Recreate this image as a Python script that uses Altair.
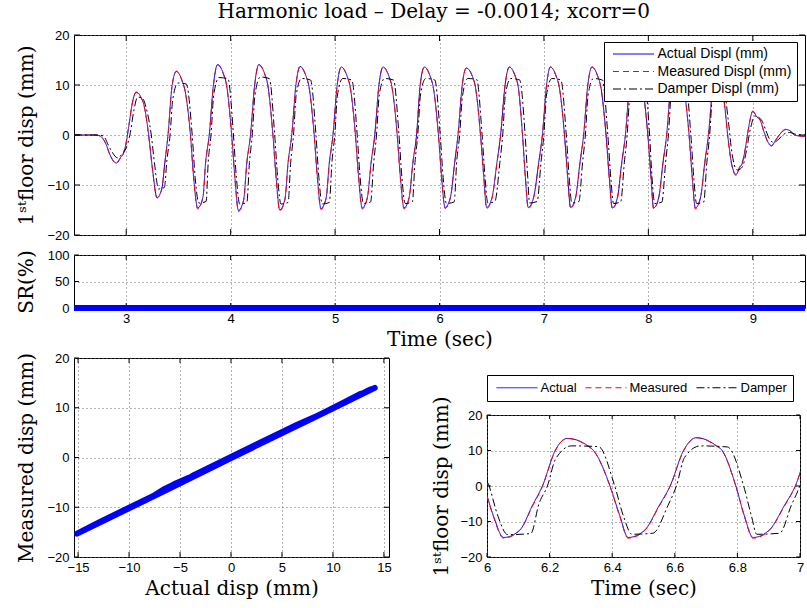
import altair as alt
import pandas as pd

TITLE = "Harmonic load – Delay = -0.0014; xcorr=0"
SERIES = ["Actual Displ (mm)", "Measured Displ (mm)", "Damper Displ (mm)"]
COLORS = ["blue", "red", "black"]
DASHES = [[1, 0], [6, 4], [8, 3, 2, 3]]

TIME = [
    2.50, 2.60, 2.70, 2.75, 2.80, 2.85, 2.905, 2.945, 2.975, 3.00, 3.03, 3.06, 3.095, 3.14, 3.17, 3.215, 3.25, 3.295,
    3.34, 3.37, 3.40, 3.44, 3.48,
    3.535, 3.565, 3.615, 3.645, 3.685,
    3.735, 3.76, 3.795, 3.835, 3.875,
    3.93, 3.96, 4.01, 4.04, 4.075,
    4.125, 4.155, 4.19, 4.23, 4.27,
    4.325, 4.355, 4.405, 4.435, 4.47,
    4.52, 4.55, 4.585, 4.625, 4.665,
    4.72, 4.75, 4.80, 4.83, 4.865,
    4.915, 4.945, 4.98, 5.02, 5.06,
    5.115, 5.145, 5.195, 5.225, 5.26,
    5.31, 5.345, 5.38, 5.42, 5.46,
    5.515, 5.545, 5.595, 5.625, 5.66,
    5.71, 5.745, 5.78, 5.815, 5.855,
    5.91, 5.94, 5.99, 6.02, 6.053,
    6.105, 6.145, 6.177, 6.219, 6.256,
    6.314, 6.345, 6.393, 6.424, 6.451,
    6.503, 6.55, 6.585, 6.628, 6.668,
    6.725, 6.755, 6.795, 6.822, 6.85,
    6.903, 6.95, 6.985, 7.025, 7.062,
    7.117, 7.147, 7.197, 7.227, 7.255,
    7.305, 7.345, 7.38, 7.42, 7.46,
    7.515, 7.545, 7.595, 7.625, 7.655,
    7.705, 7.745, 7.78, 7.82, 7.86,
    7.915, 7.945, 7.995, 8.025, 8.05,
    8.10, 8.14, 8.175, 8.215, 8.255,
    8.31, 8.34, 8.39, 8.42, 8.45,
    8.50, 8.54, 8.575, 8.615, 8.65,
    8.70, 8.73, 8.765, 8.80, 8.84,
    8.875, 8.90, 8.93, 8.96, 9.00,
    9.04, 9.07, 9.11, 9.15, 9.18,
    9.22, 9.27, 9.32, 9.36, 9.40, 9.45, 9.50,
]

ACTUAL = [
    0.0, 0.0, 0.0, -0.2, -1.5, -4.2, -5.6, -4.5, -3.6, -1.5, 2.5, 6.5, 8.6, 7.6, 6.0, 0.0, -6.5, -12.5,
    -10.8, -5.5, 0.0, 10.0, 12.7,
    10.9, 8.7, 0.0, -8.3, -14.6,
    -12.4, -5.5, 0.0, 10.0, 14.1,
    12.3, 10.1, 0.0, -8.3, -15.1,
    -12.9, -5.5, 0.0, 10.0, 14.1,
    12.3, 10.1, 0.0, -8.3, -15.0,
    -12.8, -5.5, 0.0, 10.0, 13.7,
    11.9, 9.7, 0.0, -8.3, -14.7,
    -12.5, -5.5, 0.0, 10.0, 13.6,
    11.8, 9.6, 0.0, -8.3, -14.6,
    -12.4, -5.5, 0.0, 10.0, 13.6,
    11.8, 9.6, 0.0, -8.3, -14.6,
    -12.4, -5.5, 0.0, 10.0, 13.6,
    11.8, 9.6, 0.0, -8.3, -14.5,
    -12.4, -5.5, 0.0, 10.2, 13.4,
    11.8, 9.5, 0.0, -8.3, -14.5,
    -12.5, -5.5, 0.0, 10.0, 13.6,
    11.8, 9.5, 0.0, -8.3, -14.5,
    -12.3, -5.5, 0.0, 10.0, 13.6,
    11.8, 9.6, 0.0, -8.3, -14.5,
    -12.3, -5.5, 0.0, 10.0, 13.6,
    11.8, 9.6, 0.0, -8.3, -14.6,
    -12.4, -5.5, 0.0, 10.0, 13.5,
    11.7, 9.5, 0.0, -8.3, -14.6,
    -12.4, -5.5, 0.0, 10.0, 13.4,
    11.6, 9.4, 0.0, -8.3, -14.6,
    -12.4, -5.5, 0.0, 9.0, 12.0,
    10.5, 6.0, -1.0, -6.0, -7.9,
    -6.5, -5.6, -2.5, 1.5, 4.7,
    3.6, 3.0, 0.5, -1.6, -2.1,
    -1.0, 0.4, 1.1, 0.8, 0.0, -0.2, -0.3,
]

MEASURED = [
    0.0, 0.0, 0.0, -0.2, -1.6, -4.3, -5.7, -4.6, -3.5, -1.4, 2.6, 6.6, 8.5, 7.5, 5.9, -0.1, -6.7, -12.6,
    -10.9, -5.6, -0.1, 9.9, 12.8,
    10.8, 8.6, -0.1, -8.5, -14.8,
    -12.5, -5.7, -0.1, 9.9, 14.0,
    12.2, 10.0, -0.1, -8.5, -15.3,
    -13.0, -5.7, -0.1, 9.9, 14.0,
    12.2, 10.0, -0.1, -8.5, -15.2,
    -12.9, -5.7, -0.1, 9.9, 13.7,
    11.8, 9.6, -0.1, -8.5, -14.9,
    -12.6, -5.7, -0.1, 9.9, 13.6,
    11.7, 9.5, -0.1, -8.5, -14.8,
    -12.5, -5.7, -0.1, 9.9, 13.6,
    11.7, 9.5, -0.1, -8.5, -14.8,
    -12.5, -5.7, -0.1, 9.9, 13.6,
    11.7, 9.5, -0.1, -8.5, -14.7,
    -12.5, -5.7, -0.1, 10.1, 13.4,
    11.7, 9.4, -0.1, -8.5, -14.7,
    -12.6, -5.7, -0.1, 9.9, 13.6,
    11.7, 9.4, -0.1, -8.5, -14.7,
    -12.4, -5.7, -0.1, 9.9, 13.6,
    11.7, 9.5, -0.1, -8.5, -14.7,
    -12.4, -5.7, -0.1, 9.9, 13.6,
    11.7, 9.5, -0.1, -8.5, -14.8,
    -12.5, -5.7, -0.1, 9.9, 13.5,
    11.6, 9.4, -0.1, -8.5, -14.8,
    -12.5, -5.7, -0.1, 9.9, 13.4,
    11.5, 9.3, -0.1, -8.5, -14.8,
    -12.5, -5.7, -0.1, 8.9, 12.0,
    10.4, 5.9, -1.1, -6.2, -8.1,
    -6.3, -5.4, -2.6, 1.4, 4.8,
    3.7, 3.0, 0.4, -1.7, -2.2,
    -1.0, 0.5, 1.2, 0.8, 0.0, -0.2, -0.3,
]

DAMPER_TIME = [
    2.50, 2.72, 2.78, 2.84, 2.92, 2.96, 2.995, 3.04, 3.07, 3.11, 3.16, 3.19, 3.24, 3.27, 3.31,
    3.365, 3.39, 3.42, 3.445, 3.495, 3.575, 3.632, 3.66,
    3.697, 3.765, 3.785, 3.812, 3.838, 3.889, 3.975, 4.027, 4.055,
    4.087, 4.155, 4.18, 4.207, 4.233, 4.284, 4.37, 4.422, 4.45,
    4.482, 4.55, 4.575, 4.602, 4.628, 4.679, 4.765, 4.817, 4.845,
    4.877, 4.945, 4.97, 4.997, 5.023, 5.074, 5.16, 5.212, 5.24,
    5.272, 5.34, 5.37, 5.397, 5.423, 5.474, 5.56, 5.612, 5.64,
    5.672, 5.74, 5.765, 5.792, 5.818, 5.869, 5.955, 6.007, 6.035,
    6.066, 6.14, 6.166, 6.193, 6.219, 6.27, 6.356, 6.408, 6.436,
    6.463, 6.53, 6.578, 6.605, 6.631, 6.682, 6.768, 6.82, 6.845,
    6.862, 6.935, 6.972, 6.999, 7.025, 7.076, 7.162, 7.214, 7.242,
    7.267, 7.335, 7.37, 7.397, 7.423, 7.474, 7.56, 7.612, 7.64,
    7.667, 7.735, 7.77, 7.797, 7.823, 7.874, 7.96, 8.012, 8.035,
    8.062, 8.13, 8.165, 8.192, 8.218, 8.269, 8.355, 8.407, 8.435,
    8.462, 8.53, 8.56, 8.587, 8.613, 8.664, 8.72, 8.765, 8.80,
    8.85, 8.88, 8.91, 8.94, 8.975, 9.02, 9.08, 9.12, 9.16, 9.20, 9.25, 9.30, 9.35, 9.42, 9.50,
]

DAMPER = [
    0.0, 0.0, -0.2, -2.5, -4.6, -3.8, -2.8, 0.5, 4.5, 7.6, 7.2, 5.5, 0.0, -5.5, -10.8,
    -10.5, -5.0, 0.0, 7.0, 10.4, 10.2, 0.0, -8.5,
    -13.6, -13.3, -5.5, 0.0, 8.0, 11.5, 11.2, 0.0, -8.5,
    -13.8, -13.5, -5.5, 0.0, 8.0, 11.6, 11.3, 0.0, -8.5,
    -13.8, -13.5, -5.5, 0.0, 8.0, 11.3, 11.0, 0.0, -8.5,
    -13.8, -13.5, -5.5, 0.0, 8.0, 11.3, 11.0, 0.0, -8.5,
    -13.7, -13.4, -5.5, 0.0, 8.0, 11.3, 11.0, 0.0, -8.5,
    -13.7, -13.4, -5.5, 0.0, 8.0, 11.3, 11.0, 0.0, -8.5,
    -13.7, -13.4, -5.0, 0.0, 7.6, 11.3, 11.1, 0.0, -8.5,
    -13.6, -13.3, -5.5, 0.0, 8.0, 11.3, 11.0, 0.0, -8.5,
    -13.6, -13.3, -5.5, 0.0, 8.0, 11.3, 11.0, 0.0, -8.5,
    -13.6, -13.3, -5.5, 0.0, 8.0, 11.3, 11.0, 0.0, -8.5,
    -13.7, -13.4, -5.5, 0.0, 8.0, 11.2, 10.9, 0.0, -8.5,
    -13.7, -13.4, -5.5, 0.0, 8.0, 11.2, 10.9, 0.0, -8.5,
    -13.7, -13.4, -5.5, 0.0, 7.5, 10.5, 9.5, 3.0, -3.5,
    -7.0, -6.8, -5.9, -3.0, 1.0, 3.8, 3.1, 1.2, -0.8, -1.5, -0.8, 0.2, 0.5, 0.1, 0.0,
]

SR_TIME = [2.5, 3.0, 3.5, 4.0, 4.5, 5.0, 5.5, 6.0, 6.5, 7.0, 7.5, 8.0, 8.5, 9.0, 9.5]
SR_VALUE = [0, 0, 0, 0, 0, 0, 0, 0, 0, 0, 0, 0, 0, 0, 0]

TIME_TICKS = [3, 4, 5, 6, 7, 8, 9]
DISP_TICKS = [-20, -10, 0, 10, 20]
SR_TICKS = [0, 50, 100]
ACT_TICKS = [-15, -10, -5, 0, 5, 10, 15]
ZOOM_TICKS = [6, 6.2, 6.4, 6.6, 6.8, 7]

YTITLE = "1ˢᵗfloor disp (mm)"

df_lines = pd.concat([
    pd.DataFrame({"t": TIME, "v": ACTUAL, "s": SERIES[0]}),
    pd.DataFrame({"t": TIME, "v": MEASURED, "s": SERIES[1]}),
    pd.DataFrame({"t": DAMPER_TIME, "v": DAMPER, "s": SERIES[2]}),
], ignore_index=True)
df_sr = pd.DataFrame({"t": SR_TIME, "sr": SR_VALUE})
df_xy = pd.DataFrame({"i": list(range(len(TIME))), "a": ACTUAL, "m": MEASURED})

SYMBOL_PATH = "M-4.1,0H4.1"
color_scale = alt.Scale(domain=SERIES, range=COLORS)
dash_scale = alt.Scale(domain=SERIES, range=DASHES)
LEG_COMMON = dict(
    fillColor="white", strokeColor="black", cornerRadius=0,
    symbolType=SYMBOL_PATH, symbolSize=100, symbolStrokeWidth=1,
    symbolOffset=17.5, labelOffset=17, labelFont="Liberation Sans",
    labelColor="black", labelLimit=300,
)
top_legend = alt.Legend(orient="none", legendX=530, legendY=7, direction="vertical",
                        padding=5, rowPadding=3.5, labelFontSize=14, **LEG_COMMON)
br_legend = alt.Legend(orient="top", direction="horizontal", offset=14, padding=6,
                       columnPadding=5, labelFontSize=13,
                       labelExpr="split(datum.label, ' ')[0]", **LEG_COMMON)

frame = alt.ViewBackground(stroke="black", strokeWidth=1)


def inner_ticks(xvals, yvals, xfield, yfield, xscale, yscale, xaxis, yaxis, w, h, n):
    """Inward MATLAB-style tick marks on the four sides of a panel."""
    dx = pd.DataFrame({xfield: xvals})
    dy = pd.DataFrame({yfield: yvals})
    xs = alt.X(f"{xfield}:Q", scale=xscale, axis=xaxis)
    ys = alt.Y(f"{yfield}:Q", scale=yscale, axis=yaxis)
    base = dict(color="black", strokeWidth=1)
    return [
        alt.Chart(dx).mark_rule(**base).encode(x=xs, y=alt.value(h), y2=alt.value(h - n)),
        alt.Chart(dx).mark_rule(**base).encode(x=xs, y=alt.value(0), y2=alt.value(n)),
        alt.Chart(dy).mark_rule(**base).encode(y=ys, x=alt.value(0), x2=alt.value(n)),
        alt.Chart(dy).mark_rule(**base).encode(y=ys, x=alt.value(w), x2=alt.value(w - n)),
    ]


# ---- top panel ----
TW, TH = 731, 200
t_xs = alt.Scale(domain=[2.5, 9.5], nice=False, zero=False)
t_ys = alt.Scale(domain=[-20, 20], nice=False)
t_xa = alt.Axis(values=TIME_TICKS, labels=False, title=None)
t_ya = alt.Axis(values=DISP_TICKS, format="d", title=YTITLE)
top_lines = alt.Chart(df_lines).mark_line(strokeWidth=1, clip=True, interpolate="monotone").encode(
    x=alt.X("t:Q", scale=t_xs, axis=t_xa),
    y=alt.Y("v:Q", scale=t_ys, axis=t_ya),
    color=alt.Color("s:N", scale=color_scale, sort=SERIES, title=None, legend=top_legend),
    strokeDash=alt.StrokeDash("s:N", scale=dash_scale, sort=SERIES, title=None, legend=top_legend),
)
top = alt.layer(
    top_lines, *inner_ticks(TIME_TICKS, DISP_TICKS, "t", "v", t_xs, t_ys, t_xa, t_ya, 731, 200, 6)
).properties(width=TW, height=TH, view=frame)

# ---- SR panel (thick marker band drawn as a filled area, half-width ~3 px) ----
SH = 53
s_ys = alt.Scale(domain=[0, 100], nice=False)
s_xa = alt.Axis(values=TIME_TICKS, format="d", title="Time (sec)")
s_ya = alt.Axis(values=SR_TICKS, format="d", title="SR(%)")
sr_band = alt.Chart(df_sr).transform_calculate(
    hi="datum.sr + 5.7", lo="datum.sr - 5.7"
).mark_area(color="blue", opacity=1, clip=False).encode(
    x=alt.X("t:Q", scale=t_xs, axis=s_xa),
    y=alt.Y("hi:Q", scale=s_ys, axis=s_ya),
    y2="lo:Q",
)
sr = alt.layer(
    *inner_ticks(TIME_TICKS, SR_TICKS, "t", "hi", t_xs, s_ys, s_xa, s_ya, 731, 53, 5), sr_band
).properties(width=TW, height=SH, view=frame)

# ---- bottom-left panel ----
BW, BH = 315, 199
b_xs = alt.Scale(domain=[-15.4, 15.5], nice=False, zero=False)
b_ys = alt.Scale(domain=[-20, 20], nice=False)
b_xa = alt.Axis(values=ACT_TICKS, format="d", title="Actual disp (mm)")
b_ya = alt.Axis(values=DISP_TICKS, format="d", title="Measured disp (mm)")
bl_line = alt.Chart(df_xy).mark_line(color="blue", strokeWidth=6, strokeJoin="round").encode(
    x=alt.X("a:Q", scale=b_xs, axis=b_xa),
    y=alt.Y("m:Q", scale=b_ys, axis=b_ya),
    order="i:Q",
)
bl = alt.layer(
    bl_line, *inner_ticks(ACT_TICKS, DISP_TICKS, "a", "m", b_xs, b_ys, b_xa, b_ya, 315, 199, 5)
).properties(width=BW, height=BH, view=frame)

# ---- bottom-right panel ----
RW, RH = 313, 142
r_xs = alt.Scale(domain=[6, 7], nice=False, zero=False)
r_ys = alt.Scale(domain=[-20, 20], nice=False)
r_xa = alt.Axis(values=ZOOM_TICKS, format="~g", title="Time (sec)")
r_ya = alt.Axis(values=DISP_TICKS, format="d", title=YTITLE, titlePadding=6)
br_lines = alt.Chart(df_lines).mark_line(strokeWidth=1, clip=True, interpolate="monotone").encode(
    x=alt.X("t:Q", scale=r_xs, axis=r_xa),
    y=alt.Y("v:Q", scale=r_ys, axis=r_ya),
    color=alt.Color("s:N", scale=color_scale, sort=SERIES, title=None, legend=br_legend),
    strokeDash=alt.StrokeDash("s:N", scale=dash_scale, sort=SERIES, title=None, legend=br_legend),
)
br = alt.layer(
    br_lines, *inner_ticks(ZOOM_TICKS, DISP_TICKS, "t", "v", r_xs, r_ys, r_xa, r_ya, 313, 142, 4)
).properties(width=RW, height=RH, view=frame)

spacer = alt.Chart(pd.DataFrame({"k": [0]})).mark_point(opacity=0).encode(
    x=alt.value(0), y=alt.value(0)
).properties(width=10, height=4, view=alt.ViewBackground(strokeOpacity=0))

RES = dict(color="independent", strokeDash="independent")
upper = alt.vconcat(top, sr, spacing=5).resolve_scale(**RES)
right_col = alt.vconcat(spacer, br, spacing=12).resolve_scale(**RES)
lower = alt.hconcat(bl, right_col, spacing=38).resolve_scale(**RES)

chart = alt.vconcat(upper, lower, spacing=1).properties(
    title=alt.TitleParams(TITLE, anchor="start", dx=202, offset=7, font="DejaVu Serif",
                          fontSize=20, fontWeight="normal", color="black"),
    padding={"left": 15, "top": 1, "right": 0, "bottom": 0},
).resolve_scale(**RES).configure(background="white").configure_view(
    stroke="black", strokeWidth=1
).configure_axis(
    labelFont="Liberation Sans", labelFontSize=13, labelColor="black",
    titleFont="DejaVu Serif", titleFontSize=20, titleFontWeight="normal", titleColor="black",
    grid=True, gridDash=[1, 3], gridColor="#666666", gridOpacity=1, gridWidth=1,
    domain=False, ticks=False, labelFlush=False, labelPadding=5,
).configure_axisY(
    minExtent=30, maxExtent=30, titlePadding=8
).configure_axisX(
    labelPadding=4, titlePadding=4
)

chart.save("out.html", embed_options={"renderer": "svg", "actions": False})
